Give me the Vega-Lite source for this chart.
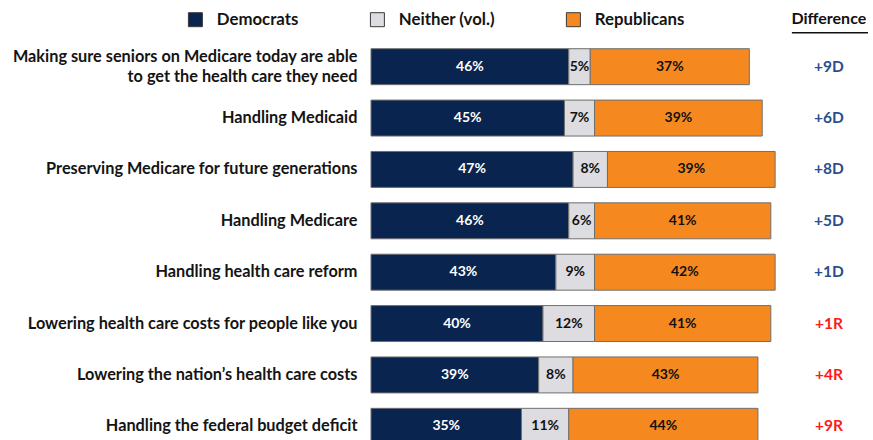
{
  "$schema": "https://vega.github.io/schema/vega-lite/v6.json",
  "width": 500,
  "height": 411,
  "autosize": {"type": "none"},
  "padding": {"left": 371, "top": 41, "right": 2, "bottom": 0},
  "background": "white",
  "config": {"view": {"stroke": null}, "font": "Lato"},
  "datasets": {
    "bars": [
      {"issue": "Making sure seniors on Medicare today are able to get the health care they need", "party": "Democrats", "pct": 0.46},
      {"issue": "Making sure seniors on Medicare today are able to get the health care they need", "party": "Neither (vol.)", "pct": 0.05},
      {"issue": "Making sure seniors on Medicare today are able to get the health care they need", "party": "Republicans", "pct": 0.37},
      {"issue": "Handling Medicaid", "party": "Democrats", "pct": 0.45},
      {"issue": "Handling Medicaid", "party": "Neither (vol.)", "pct": 0.07},
      {"issue": "Handling Medicaid", "party": "Republicans", "pct": 0.39},
      {"issue": "Preserving Medicare for future generations", "party": "Democrats", "pct": 0.47},
      {"issue": "Preserving Medicare for future generations", "party": "Neither (vol.)", "pct": 0.08},
      {"issue": "Preserving Medicare for future generations", "party": "Republicans", "pct": 0.39},
      {"issue": "Handling Medicare", "party": "Democrats", "pct": 0.46},
      {"issue": "Handling Medicare", "party": "Neither (vol.)", "pct": 0.06},
      {"issue": "Handling Medicare", "party": "Republicans", "pct": 0.41},
      {"issue": "Handling health care reform", "party": "Democrats", "pct": 0.43},
      {"issue": "Handling health care reform", "party": "Neither (vol.)", "pct": 0.09},
      {"issue": "Handling health care reform", "party": "Republicans", "pct": 0.42},
      {"issue": "Lowering health care costs for people like you", "party": "Democrats", "pct": 0.40},
      {"issue": "Lowering health care costs for people like you", "party": "Neither (vol.)", "pct": 0.12},
      {"issue": "Lowering health care costs for people like you", "party": "Republicans", "pct": 0.41},
      {"issue": "Lowering the nation’s health care costs", "party": "Democrats", "pct": 0.39},
      {"issue": "Lowering the nation’s health care costs", "party": "Neither (vol.)", "pct": 0.08},
      {"issue": "Lowering the nation’s health care costs", "party": "Republicans", "pct": 0.43},
      {"issue": "Handling the federal budget deficit", "party": "Democrats", "pct": 0.35},
      {"issue": "Handling the federal budget deficit", "party": "Neither (vol.)", "pct": 0.11},
      {"issue": "Handling the federal budget deficit", "party": "Republicans", "pct": 0.44}
    ],
    "diffs": [
      {"issue": "Making sure seniors on Medicare today are able to get the health care they need", "diff": "+9D", "side": "D"},
      {"issue": "Handling Medicaid", "diff": "+6D", "side": "D"},
      {"issue": "Preserving Medicare for future generations", "diff": "+8D", "side": "D"},
      {"issue": "Handling Medicare", "diff": "+5D", "side": "D"},
      {"issue": "Handling health care reform", "diff": "+1D", "side": "D"},
      {"issue": "Lowering health care costs for people like you", "diff": "+1R", "side": "R"},
      {"issue": "Lowering the nation’s health care costs", "diff": "+4R", "side": "R"},
      {"issue": "Handling the federal budget deficit", "diff": "+9R", "side": "R"}
    ]
  },
  "encoding": {
    "y": {
      "field": "issue",
      "type": "nominal",
      "sort": null,
      "scale": {"paddingInner": 0.3, "paddingOuter": 0.15},
      "axis": {
        "title": null,
        "domain": false,
        "ticks": false,
        "labelPadding": 14,
        "labelFont": "Lato",
        "labelFontSize": 16.3,
        "labelFontWeight": "bold",
        "labelColor": "#141414",
        "labelLimit": 420,
        "labelLineHeight": 20,
        "labelOffset": {"condition": {"test": "datum.value == 'Making sure seniors on Medicare today are able to get the health care they need'", "value": -10}, "value": 0},
        "labelExpr": "datum.value == 'Making sure seniors on Medicare today are able to get the health care they need' ? ['Making sure seniors on Medicare today are able', 'to get the health care they need'] : datum.label"
      }
    }
  },
  "layer": [
    {
      "data": {"name": "bars"},
      "mark": {"type": "bar", "stroke": "#6f6f6f", "strokeWidth": 1},
      "encoding": {
        "x": {"field": "pct", "type": "quantitative", "stack": "zero", "scale": {"domain": [0, 1.163], "nice": false, "zero": true}, "axis": null},
        "color": {
          "field": "party",
          "type": "nominal",
          "scale": {"domain": ["Democrats", "Neither (vol.)", "Republicans"], "range": ["#0A2450", "#DCDCE1", "#F5891F"]},
          "legend": {
            "orient": "none",
            "legendX": -184,
            "legendY": -30,
            "direction": "horizontal",
            "title": null,
            "padding": 0,
            "symbolType": "square",
            "symbolSize": 196,
            "symbolStrokeColor": "#3a3a3a",
            "symbolStrokeWidth": 1,
            "labelFont": "Lato",
            "labelFontSize": 16.8,
            "labelFontWeight": "bold",
            "labelColor": "#141414",
            "labelOffset": 13,
            "columnPadding": 69
          }
        }
      }
    },
    {
      "data": {"name": "bars"},
      "transform": [
        {"stack": "pct", "groupby": ["issue"], "sort": [{"field": "party"}], "as": ["x0", "x1"]},
        {"calculate": "(datum.x0 + datum.x1) / 2", "as": "mid"}
      ],
      "mark": {"type": "text", "font": "Lato", "fontSize": 14, "fontWeight": "bold"},
      "encoding": {
        "x": {"field": "mid", "type": "quantitative"},
        "text": {"field": "pct", "type": "quantitative", "format": ".0%"},
        "color": {"condition": {"test": "datum.party === 'Democrats'", "value": "#ffffff"}, "value": "#111111"}
      }
    },
    {
      "data": {"name": "diffs"},
      "mark": {"type": "text", "font": "Lato", "fontSize": 15.5, "fontWeight": "bold"},
      "encoding": {
        "x": {"datum": 1.065, "type": "quantitative"},
        "text": {"field": "diff"},
        "color": {"condition": {"test": "datum.side === 'R'", "value": "#FF1A1A"}, "value": "#2A4F8E"}
      }
    },
    {
      "data": {"values": [{"label": "Difference"}]},
      "mark": {"type": "text", "font": "Lato", "fontSize": 16, "fontWeight": "bold", "color": "#111111", "yOffset": -48},
      "encoding": {
        "x": {"datum": 1.065, "type": "quantitative"},
        "y": {"datum": "Making sure seniors on Medicare today are able to get the health care they need", "type": "nominal"},
        "text": {"field": "label"}
      }
    },
    {
      "data": {"values": [{"label": "Difference"}]},
      "mark": {"type": "rule", "color": "#111111", "strokeWidth": 1.5, "yOffset": -34},
      "encoding": {
        "x": {"datum": 0.979, "type": "quantitative"},
        "x2": {"datum": 1.156},
        "y": {"datum": "Making sure seniors on Medicare today are able to get the health care they need", "type": "nominal"}
      }
    }
  ]
}
